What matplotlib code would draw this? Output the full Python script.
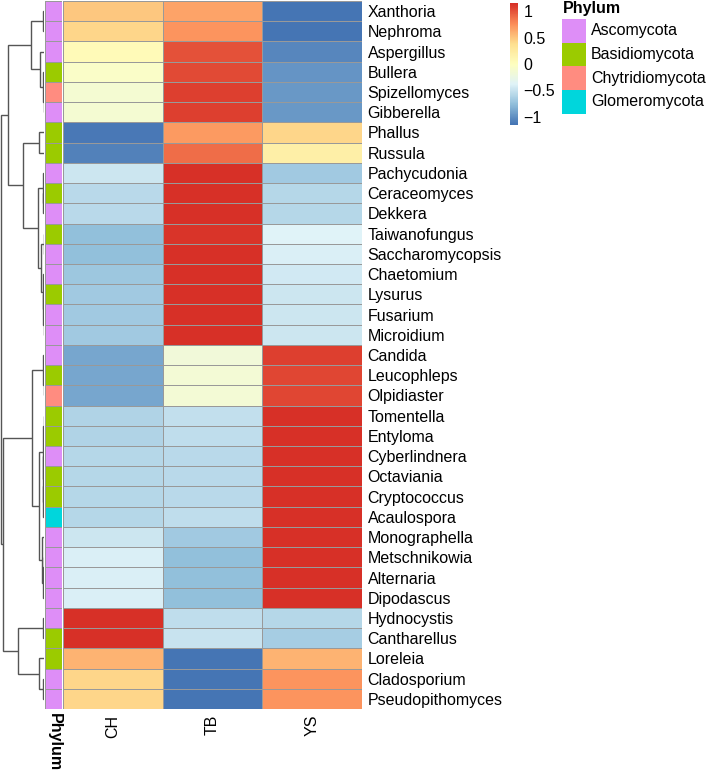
import numpy as np
import matplotlib
matplotlib.use("Agg")
import matplotlib.pyplot as plt
from matplotlib.colors import LinearSegmentedColormap, ListedColormap, Normalize
from matplotlib.patches import Rectangle

plt.rcParams['font.family'] = ['Liberation Sans', 'DejaVu Sans']

# ---------------- data ----------------
taxa = ["Xanthoria", "Nephroma", "Aspergillus", "Bullera", "Spizellomyces", "Gibberella",
        "Phallus", "Russula", "Pachycudonia", "Ceraceomyces", "Dekkera", "Taiwanofungus",
        "Saccharomycopsis", "Chaetomium", "Lysurus", "Fusarium", "Microidium", "Candida",
        "Leucophleps", "Olpidiaster", "Tomentella", "Entyloma", "Cyberlindnera", "Octaviania",
        "Cryptococcus", "Acaulospora", "Monographella", "Metschnikowia", "Alternaria",
        "Dipodascus", "Hydnocystis", "Cantharellus", "Loreleia", "Cladosporium",
        "Pseudopithomyces"]
samples = ["CH", "TB", "YS"]

ch = [0.50, 0.42, 0.05, -0.05, -0.12, -0.12, -1.12, -1.08, -0.48, -0.56, -0.57, -0.75,
      -0.74, -0.70, -0.68, -0.67, -0.67, -0.90, -0.90, -0.90, -0.62, -0.61, -0.58, -0.59,
      -0.59, -0.60, -0.48, -0.40, -0.41, -0.40, 1.15, 1.15, 0.58, 0.42, 0.42]
tb = [0.65, 0.73, 1.00, 1.03, 1.07, 1.08, 0.70, 0.88, 1.15, 1.15, 1.15, 1.13,
      1.14, 1.15, 1.15, 1.15, 1.15, -0.18, -0.15, -0.15, -0.53, -0.54, -0.57, -0.56,
      -0.56, -0.55, -0.67, -0.75, -0.74, -0.75, -0.55, -0.50, -1.155, -1.15, -1.15]
ys = [-1.15, -1.15, -1.05, -0.98, -0.95, -0.96, 0.42, 0.20, -0.67, -0.59, -0.58, -0.38,
      -0.40, -0.45, -0.47, -0.48, -0.48, 1.08, 1.05, 1.05, 1.15, 1.15, 1.15, 1.15,
      1.15, 1.15, 1.15, 1.15, 1.15, 1.15, -0.60, -0.65, 0.58, 0.73, 0.73]

phylum_names = ["Ascomycota", "Basidiomycota", "Chytridiomycota", "Glomeromycota"]
phylum_colors = ["#DE8EF7", "#9BCB00", "#FF8C80", "#00D6DC"]
phylum = ["Ascomycota", "Ascomycota", "Ascomycota", "Basidiomycota", "Chytridiomycota",
          "Ascomycota", "Basidiomycota", "Basidiomycota", "Ascomycota", "Basidiomycota",
          "Ascomycota", "Basidiomycota", "Ascomycota", "Ascomycota", "Basidiomycota",
          "Ascomycota", "Ascomycota", "Ascomycota", "Basidiomycota", "Chytridiomycota",
          "Basidiomycota", "Basidiomycota", "Ascomycota", "Basidiomycota", "Basidiomycota",
          "Glomeromycota", "Ascomycota", "Ascomycota", "Ascomycota", "Ascomycota",
          "Ascomycota", "Basidiomycota", "Basidiomycota", "Ascomycota", "Ascomycota"]

# row dendrogram (linkage-like: left id, right id, height); ids >= 35 are earlier merges
merge_left = [4, 3, 2, 0, 38, 6, 9, 8, 11, 15, 14, 13, 43, 42, 40, 39, 18, 17, 23, 53, 22,
              20, 56, 27, 58, 26, 57, 52, 30, 33, 32, 63, 62, 50]
merge_right = [5, 35, 36, 1, 37, 7, 10, 41, 12, 16, 44, 45, 46, 47, 48, 49, 19, 51, 24, 25,
               54, 21, 55, 28, 29, 59, 60, 61, 31, 34, 64, 65, 66, 67]
merge_height = [0.5, 1.2, 4.0, 1.0, 13.0, 5.0, 0.6, 1.5, 0.5, 0.3, 0.8, 1.5, 3.5, 6.0, 21.0,
                36.0, 0.5, 1.3, 0.3, 0.8, 1.2, 0.4, 1.5, 0.4, 0.8, 2.0, 5.0, 12.0, 1.3, 0.7,
                4.7, 26.0, 41.0, 43.0]

# colour scale (reversed RdYlBu, 7 anchors, 100 steps)
anchor_colors = ["#4575B4", "#91BFDB", "#E0F3F8", "#FFFFBF", "#FEE090", "#FC8D59", "#D73027"]
vlim = 1.1547

# ---------------- layout ----------------
W, H = 709, 771
fig = plt.figure(figsize=(W / 100, H / 100), dpi=100)

def rect(x0, y0, x1, y1):
    return [x0 / W, 1 - y1 / H, (x1 - x0) / W, (y1 - y0) / H]

top, bot = 1, 709
n = len(taxa)
data = np.array([ch, tb, ys]).T
cmap = ListedColormap(LinearSegmentedColormap.from_list("rdylbu_r", anchor_colors)(np.linspace(0, 1, 100)))
norm = Normalize(-vlim, vlim)
grey60 = "#999999"

# heatmap
axh = fig.add_axes(rect(63, top, 362, bot))
axh.pcolormesh(np.arange(4), np.arange(n + 1), data, cmap=cmap, norm=norm,
               edgecolors=grey60, linewidth=0.6)
axh.set_xlim(0, 3)
axh.set_ylim(n, 0)
for s in axh.spines.values():
    s.set_visible(False)
axh.set_yticks(np.arange(n) + 0.5)
axh.set_yticklabels(taxa, fontsize=11.5)
axh.yaxis.tick_right()
axh.set_xticks(np.arange(3) + 0.5)
axh.set_xticklabels(samples, fontsize=11.5, rotation=90, va="top", ha="center")
axh.tick_params(length=0, pad=4)

# annotation column
axa = fig.add_axes(rect(45, top, 62, bot))
codes = np.array([phylum_names.index(p) for p in phylum]).reshape(-1, 1)
axa.pcolormesh(np.arange(2), np.arange(n + 1), codes, cmap=ListedColormap(phylum_colors),
               vmin=-0.5, vmax=len(phylum_names) - 0.5, edgecolors=grey60, linewidth=0.6)
axa.set_xlim(0, 1)
axa.set_ylim(n, 0)
axa.axis("off")
fig.text(54 / W, 1 - 713 / H, "Phylum", rotation=270, ha="center", va="top",
         fontsize=11.5, fontweight="bold")

# dendrogram
axd = fig.add_axes(rect(0, top, 44, bot))
pos = {i: (i + 0.5, 0.0) for i in range(n)}
for k, (a, b, h) in enumerate(zip(merge_left, merge_right, merge_height)):
    ya, ha = pos[a]
    yb, hb = pos[b]
    axd.plot([ha, h, h, hb], [ya, ya, yb, yb], color="#555555", lw=1.0,
             solid_joinstyle="miter", solid_capstyle="butt")
    pos[n + k] = ((ya + yb) / 2, h)
axd.set_xlim(44, 0)
axd.set_ylim(n, 0)
axd.axis("off")

# colour bar legend
axc = fig.add_axes(rect(510, 3, 518, 125))
axc.imshow(np.linspace(-vlim, vlim, 100).reshape(-1, 1), cmap=cmap, norm=norm,
           origin="lower", aspect="auto", extent=[0, 1, -vlim, vlim])
axc.set_xticks([])
axc.yaxis.tick_right()
cticks = [-1, -0.5, 0, 0.5, 1]
axc.set_yticks(cticks)
axc.set_yticklabels(["\u22121", "\u22120.5", "0", "0.5", "1"], fontsize=11.5)
axc.tick_params(length=0, pad=4)
for s in axc.spines.values():
    s.set_visible(False)

# phylum legend
axl = fig.add_axes([0, 0, 1, 1], facecolor="none")
axl.set_xlim(0, W)
axl.set_ylim(H, 0)
axl.axis("off")
axl.text(563, 9, "Phylum", fontsize=11.5, fontweight="bold", va="center", ha="left")
bh = 23.7
for i, (name, col) in enumerate(zip(phylum_names, phylum_colors)):
    y0 = 19 + i * bh
    axl.add_patch(Rectangle((562, y0), 24, bh, facecolor=col, edgecolor="none"))
    axl.text(591, y0 + bh / 2, name, fontsize=11.5, va="center", ha="left")

fig.savefig("out.png", dpi=100)
